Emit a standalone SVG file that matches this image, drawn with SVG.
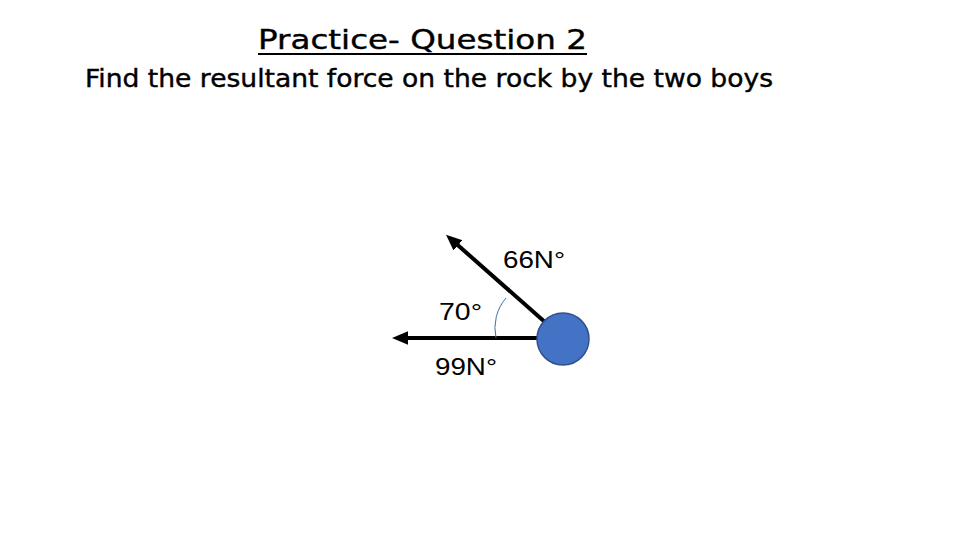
<svg xmlns="http://www.w3.org/2000/svg" width="960" height="540" viewBox="0 0 960 540">
<style>
.t{font-family:"DejaVu Sans","Liberation Sans",sans-serif;fill:#000;stroke:#000;stroke-width:0.4}
.lbl{font-family:"Liberation Sans",Arial,sans-serif;font-size:24px;fill:#000}
.force{stroke:#000;stroke-width:4;fill:none}
</style>
<defs>
<marker id="ah" markerWidth="4" markerHeight="4" refX="2" refY="2" orient="auto" markerUnits="strokeWidth">
<path d="M0,0.3 L4,2 L0,3.7 Z" fill="#000"/>
</marker>
</defs>
<rect width="960" height="540" fill="#fff"/>
<g id="title">
<text class="t" x="258" y="49" font-size="27" textLength="329" lengthAdjust="spacingAndGlyphs">Practice- Question 2</text>
<line x1="258" y1="54" x2="587" y2="54" stroke="#000" stroke-width="2"/>
</g>
<g id="subtitle">
<text class="t" x="85" y="87" font-size="24" textLength="688" lengthAdjust="spacingAndGlyphs">Find the resultant force on the rock by the two boys</text>
</g>
<g id="connectors">
<line class="force" x1="546" y1="323" x2="452" y2="240" marker-end="url(#ah)"/>
<line class="force" x1="540" y1="338" x2="400" y2="338" marker-end="url(#ah)"/>
<path d="M506,298 A46,46 0 0 0 496,338" fill="none" stroke="#41719c" stroke-width="1"/>
</g>
<g id="rock">
<circle cx="563" cy="339" r="26" fill="#4472c4" stroke="#2f528f" stroke-width="1.5"/>
</g>
<g id="labels">
<text class="lbl" x="503" y="268" textLength="62" lengthAdjust="spacingAndGlyphs">66N°</text>
<text class="lbl" x="439" y="320" textLength="43" lengthAdjust="spacingAndGlyphs">70°</text>
<text class="lbl" x="435" y="375" textLength="62" lengthAdjust="spacingAndGlyphs">99N°</text>
</g>
</svg>
